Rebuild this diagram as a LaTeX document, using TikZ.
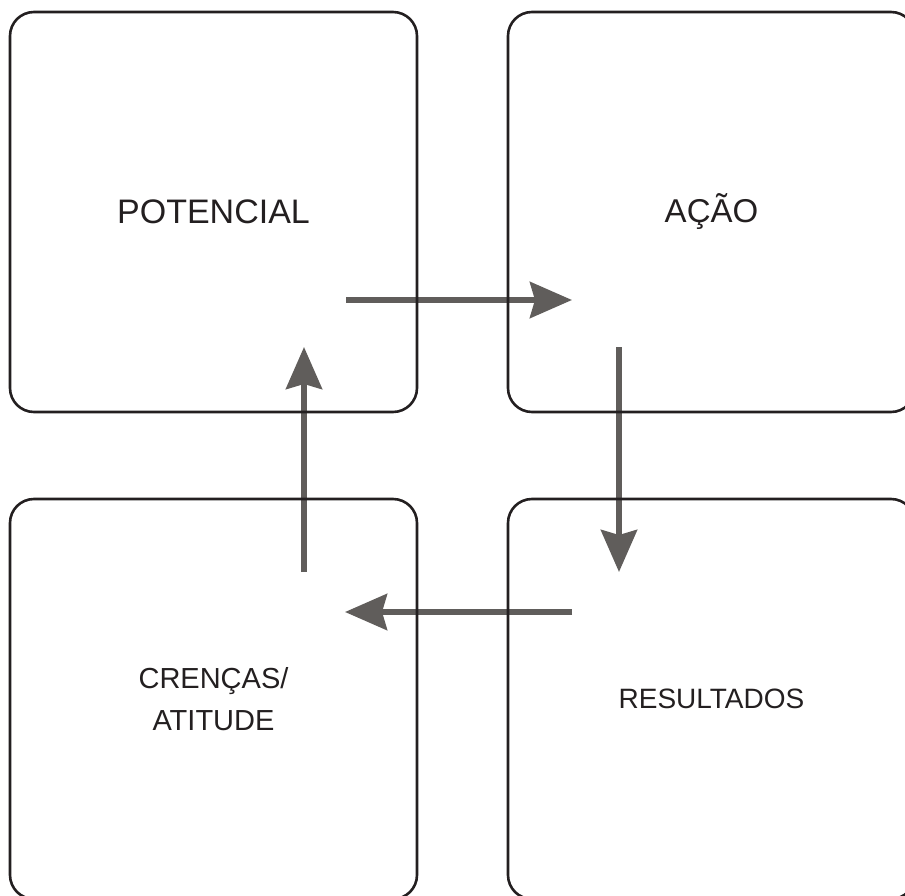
\documentclass[tikz,border=0pt]{standalone}
\usepackage{fontspec}
\setmainfont{Liberation Sans}
\usepackage{tikz}
\usetikzlibrary{arrows.meta}
\definecolor{arrowgray}{RGB}{96,93,91}
\definecolor{inkblack}{RGB}{35,31,32}

\begin{document}
\begin{tikzpicture}[x=1pt, y=-1pt,
	box/.style={rectangle, rounded corners=24pt, draw=inkblack, line width=2.6pt,
		text=inkblack, minimum width=407pt, minimum height=400pt, inner sep=0pt,
		align=center},
	flow/.style={draw=arrowgray, line width=6pt,
		-{Stealth[length=42pt, width=36pt, inset=5pt, fill=arrowgray]}}]
	\path[use as bounding box, clip] (0, 0) rectangle (905, 896);

	\coordinate (a1) at (346, 300);
	\coordinate (a2) at (572, 300);
	\coordinate (b1) at (619, 347);
	\coordinate (b2) at (619, 572);
	\coordinate (c1) at (572, 612);
	\coordinate (c2) at (345, 612);
	\coordinate (d1) at (304, 572);
	\coordinate (d2) at (304, 347);

	\path (a1) edge[flow] (a2);
	\path (b1) edge[flow] (b2);
	\path (c1) edge[flow] (c2);
	\path (d1) edge[flow] (d2);

	\node[box, font=\fontsize{34}{40}\selectfont] (pot) at (213.5, 212) {POTENCIAL};
	\node[box, font=\fontsize{33}{40}\selectfont] (acao) at (711.5, 212) {AÇÃO};
	\node[box, font=\fontsize{28}{34}\selectfont] (res) at (711.5, 699) {RESULTADOS};
	\node[box, font=\fontsize{29}{42}\selectfont] (cren) at (213.5, 699) {CRENÇAS/\\ATITUDE};
\end{tikzpicture}
\end{document}
